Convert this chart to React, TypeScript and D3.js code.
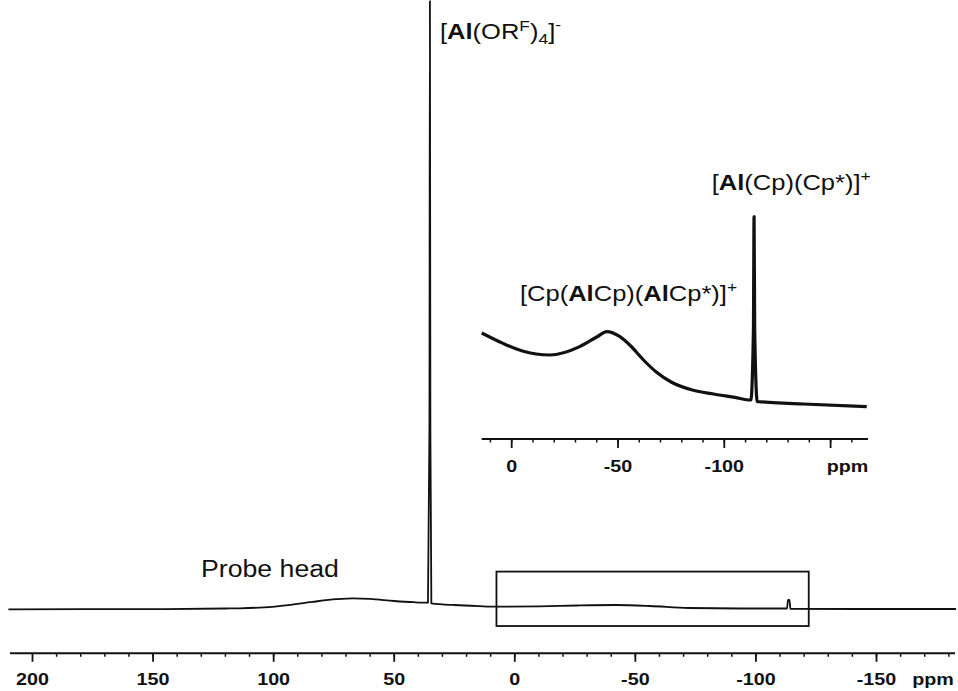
import React from "react";
import * as d3 from "d3";

// ---- Data ----
// Main 27Al spectrum: [ppm, intensity]
const mainPpm = [210, 150, 120, 114, 104, 94, 84, 74, 67, 60, 50, 42, 36, 35.4, 35.2, 35.0, 34.6, 30, 25, 15, 8, -10, -26, -42, -56, -72, -93, -112.9, -113.3, -113.9, -114.3, -140, -183];
const mainInt = [0.12, 0.15, 0.25, 0.28, 0.45, 0.83, 1.35, 1.8, 1.95, 1.85, 1.5, 1.3, 1.22, 30, 101.5, 30, 1.1, 0.95, 0.83, 0.65, 0.55, 0.6, 0.75, 0.83, 0.67, 0.33, 0.25, 0.25, 1.67, 1.67, 0.2, 0.17, 0.17];

// Inset (zoomed region)
const insetPpm = [14.1, 4.1, -5, -18, -32, -40, -44.7, -50.9, -56, -62, -68, -75, -85, -95, -105, -112.5, -113.7, -114, -114.3, -115.5, -117, -137, -167];
const insetInt = [38.5, 33.3, 29.5, 27.5, 31.7, 36.5, 39.2, 36.7, 32, 25, 19, 14, 10, 8, 6.3, 5, 40, 96.7, 40, 4.2, 4.1, 3, 1.7];

const mainMajorTicks = [200, 150, 100, 50, 0, -50, -100, -150];
const mainMinorTicks = d3.range(190, -181, -10);
const insetMajorTicks = [0, -50, -100, -150];
const insetMajorLabels = ["0", "-50", "-100", ""];
const insetMinorTicks = d3.range(10, -161, -10);

const boxPpm = [7.6, -121.9];
const boxInt = [6.4, -2.67];

const FONT = "'Liberation Sans', Arial, Helvetica, sans-serif";
const SX = 1.16;

function Label({ x, y, size = 22, anchor = "start", bold = false, children }: any) {
  return (
    <text
      transform={`translate(${x},${y}) scale(${SX},1)`}
      fontSize={size}
      fontFamily={FONT}
      fontWeight={bold ? "bold" : "normal"}
      textAnchor={anchor}
      fill="#111"
    >
      {children}
    </text>
  );
}

export default function App() {
  const W = 958, H = 691;
  const xMain = d3.scaleLinear().domain([200, -150]).range([32.5, 876.5]);
  const yMain = d3.scaleLinear().domain([0, 100]).range([610, 10]);
  const xIn = d3.scaleLinear().domain([0, -150]).range([511.7, 830.6]);
  const yIn = d3.scaleLinear().domain([0, 100]).range([410, 210]);

  const mainLine = d3
    .line<number>()
    .x((_, i) => xMain(mainPpm[i]))
    .y((d) => yMain(d))
    .curve(d3.curveMonotoneX);
  const insetLine = d3
    .line<number>()
    .x((_, i) => xIn(insetPpm[i]))
    .y((d) => yIn(d))
    .curve(d3.curveMonotoneX);

  const axisY = 653.3;
  const inAxisY = 439;

  return (
    <svg width={W} height={H} style={{ position: "absolute", left: 0, top: 0, background: "#fff" }}>
      <rect x={0} y={0} width={W} height={H} fill="#fff" />
      {/* main spectrum */}
      <path d={mainLine(mainInt) || ""} fill="none" stroke="#111" strokeWidth={1.8} strokeLinejoin="round" />
      {/* zoom box */}
      <rect
        x={xMain(boxPpm[0])}
        y={yMain(boxInt[0])}
        width={xMain(boxPpm[1]) - xMain(boxPpm[0])}
        height={yMain(boxInt[1]) - yMain(boxInt[0])}
        fill="none"
        stroke="#111"
        strokeWidth={1.8}
      />
      {/* main axis */}
      <line x1={10} x2={955} y1={axisY} y2={axisY} stroke="#111" strokeWidth={2} />
      {mainMinorTicks.map((t) => (
        <line key={"mn" + t} x1={xMain(t)} x2={xMain(t)} y1={axisY} y2={axisY + 3.5} stroke="#111" strokeWidth={1.5} />
      ))}
      {mainMajorTicks.map((t) => (
        <g key={"mj" + t}>
          <line x1={xMain(t)} x2={xMain(t)} y1={axisY} y2={axisY + 8.5} stroke="#111" strokeWidth={1.8} />
          <Label x={xMain(t)} y={685} size={17} anchor="middle" bold>
            {String(t)}
          </Label>
        </g>
      ))}
      <Label x={933} y={685} size={17} anchor="middle" bold>ppm</Label>

      {/* inset spectrum */}
      <path d={insetLine(insetInt) || ""} fill="none" stroke="#111" strokeWidth={3.2} strokeLinejoin="round" />
      <line x1={481.7} x2={868} y1={inAxisY} y2={inAxisY} stroke="#111" strokeWidth={2} />
      {insetMinorTicks.map((t) => (
        <line key={"imn" + t} x1={xIn(t)} x2={xIn(t)} y1={inAxisY} y2={inAxisY + 3.5} stroke="#111" strokeWidth={1.5} />
      ))}
      {insetMajorTicks.map((t, i) => (
        <g key={"imj" + t}>
          <line x1={xIn(t)} x2={xIn(t)} y1={inAxisY} y2={inAxisY + 9} stroke="#111" strokeWidth={1.8} />
          {insetMajorLabels[i] && (
            <Label x={xIn(t)} y={471.5} size={17} anchor="middle" bold>
              {insetMajorLabels[i]}
            </Label>
          )}
        </g>
      ))}
      <Label x={847.5} y={471.5} size={17} anchor="middle" bold>ppm</Label>

      {/* annotations */}
      <Label x={440} y={38.5} size={22}>
        <tspan>[</tspan>
        <tspan fontWeight="bold">Al</tspan>
        <tspan>(OR</tspan>
        <tspan fontSize={15} dy={-8}>F</tspan>
        <tspan dy={8}>)</tspan>
        <tspan fontSize={15} dy={5}>4</tspan>
        <tspan dy={-5}>]</tspan>
        <tspan fontSize={15} dy={-9}>-</tspan>
      </Label>
      <Label x={711.7} y={190} size={22}>
        <tspan>[</tspan>
        <tspan fontWeight="bold">Al</tspan>
        <tspan>(Cp)(Cp*)]</tspan>
        <tspan fontSize={15} dy={-9}>+</tspan>
      </Label>
      <Label x={520} y={301} size={22}>
        <tspan>[Cp(</tspan>
        <tspan fontWeight="bold">Al</tspan>
        <tspan>Cp)(</tspan>
        <tspan fontWeight="bold">Al</tspan>
        <tspan>Cp*)]</tspan>
        <tspan fontSize={15} dy={-9}>+</tspan>
      </Label>
      <Label x={201} y={576.7} size={23}>Probe head</Label>
    </svg>
  );
}
